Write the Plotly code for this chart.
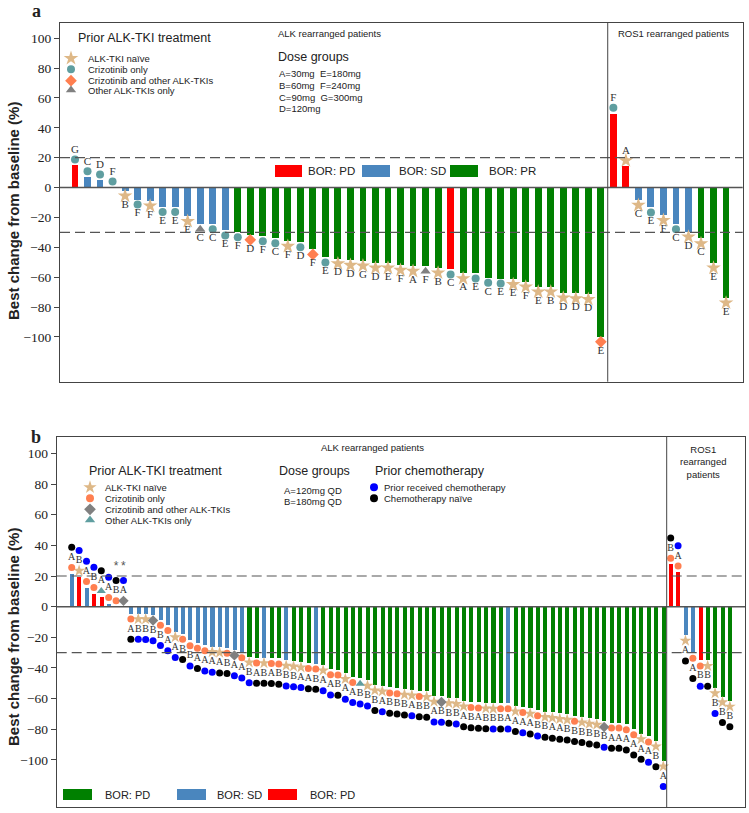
import plotly.graph_objects as go

W, H = 749, 813

# ---------------- panel a ----------------
# ALK rearranged patients (best % change from baseline, BOR, prior ALK-TKI, dose group)
a_alk_change = [15.2, 7.4, 5.2, 0.4, -2.0, -7.8, -8.7, -12.7, -12.7, -19.0,
                -24.3, -24.3, -28.5, -29.6, -31.4, -32.3, -33.7, -35.7, -36.3, -41.2,
                -46.6, -47.3, -48.4, -48.8, -50.2, -50.2, -51.7, -52.4, -52.4, -53.5,
                -54.6, -57.3, -57.3, -60.2, -60.7, -61.3, -62.9, -66.2, -66.2, -70.3,
                -70.7, -71.2, -99.7]
a_alk_bor = ("PD SD SD SD SD SD SD SD SD SD SD SD SD PR PR PR PR PR PR PR "
             "PR PR PR PR PR PR PR PR PR PR PD PR PR PR PR PR PR PR PR PR "
             "PR PR PR").split()
a_alk_prior = ("C C C C N C N C C N O C C C CO C C N C CO "
               "C N N N N N N N O N C N C C C N N N N N "
               "N N CO").split()
a_alk_dose = ("G C D F B F F E E E C C E F D F C F D F "
              "E D D G D E F A F B C A E C E E F E B D "
              "D D E").split()

# ROS1 rearranged patients
a_ros_change = [49.8, 14.5, -8.2, -13.1, -18.3, -24.3, -29.4, -33.9, -50.2, -73.6]
a_ros_bor = "PD PD SD SD SD SD SD PR PR PR".split()
a_ros_prior = "C N N C N C N N N N".split()
a_ros_dose = "F A C E F C D C E E".split()

# ---------------- panel b ----------------
b_alk_change = [21.7, 19.6, 12.6, 8.7, 6.5, 2.2, 0.0, 0.0, -4.3, -4.3,
                -4.4, -5.2, -8.3, -11.8, -16.1, -17.5, -21.7, -23.4, -25.0, -25.8,
                -26.2, -26.6, -28.0, -29.5, -32.6, -33.0, -33.0, -33.2, -33.6, -34.7,
                -35.2, -35.8, -36.5, -36.9, -37.8, -40.6, -40.8, -43.4, -45.6, -46.5,
                -47.8, -50.8, -51.5, -52.5, -53.0, -53.6, -54.1, -54.8, -55.1, -58.2,
                -58.4, -59.1, -59.6, -61.3, -62.0, -62.3, -62.6, -62.8, -62.8, -62.8,
                -64.5, -65.2, -66.0, -67.3, -68.2, -68.8, -69.5, -70.0, -71.0, -71.7,
                -72.6, -73.2, -74.7, -75.4, -75.4, -76.5, -79.8, -82.6, -84.5, -87.4,
                -100.4]
b_alk_bor = ("SD PD SD PD PD SD SD SD SD SD SD SD SD SD SD SD SD SD SD SD "
             "SD SD SD SD PR PR SD PR PR SD PR PR PR SD PR PR PR PR PR PR "
             "PR PR PR PR PR PR PR PR PR PR PR PR PR PR PR PR PR PR PR SD "
             "PR PR PR PR PR PR PR PR PR PR PR PR PR PR PR PR PR PR PR PR "
             "PR").split()
b_alk_prior = ("C N C C O C C CO C N N CO C C N C C C C N "
               "N C CO C N C N C C N N N C C N C C N C O "
               "N N N C C N N C N N CO N N N C C N N C C "
               "N C N C N N N N C N N N CO C C C C N C N "
               "N").split()
b_alk_dose = ("A B A B A A B A A B B B B A A B B A A A "
              "A B A A B A B A B B B A A B A A B A A B "
              "B B A B B B A B B A B B B A B A B B B A "
              "A A A B B A A B B B B B B A A A A A A B "
              "A").split()
b_alk_chemo = ("K U U U K U K U K U U U U U U K U K U U "
               "K K U U U K K K K U U U K K U U K U U U "
               "U K U K K K U K K U U K U K K K K U K U "
               "K U K U K K K K K K K K U K K K K K U K "
               "U").split()
b_alk_star = [6, 7]   # patients flagged with * in the original

b_ros_change = [27.8, 22.7, -18.4, -29.9, -34.9, -34.9, -52.7, -58.6, -61.4]
b_ros_bor = "PD PD SD SD PD PR PR PR PR".split()
b_ros_prior = "C C N C C N N N N".split()
b_ros_dose = "B A A A B B B B B".split()
b_ros_chemo = "K U K K U K U K K".split()

BOR_COLORS = {'PD': '#FF0000', 'SD': '#4A86BE', 'PR': '#008000'}
CHEMO_COLORS = {'U': '#0000FF', 'K': '#000000'}
PRIOR_A = {'N': ('star', '#DEB887', 11), 'C': ('circle', '#5F9EA0', 8),
           'CO': ('diamond', '#FF7F50', 9), 'O': ('triangle-up', '#808080', 9)}
PRIOR_B = {'N': ('star', '#DEB887', 9), 'C': ('circle', '#FF7F50', 7),
           'CO': ('diamond', '#808080', 8), 'O': ('triangle-up', '#5F9EA0', 8)}

SANS = 'Liberation Sans, Arial, sans-serif'
SERIF = 'Liberation Serif, Times New Roman, serif'


def shift(vals, off):
    return [v + off if v >= 0 else v - off for v in vals]


def add_panel(fig, change, bor, prior, dose, xa, ya, styles, mk_off, lab_off,
              lab_size, bar_w, chemo=None, chemo_off=0):
    xs = list(range(len(change)))
    fig.add_trace(go.Bar(x=xs, y=change, width=bar_w,
                         marker=dict(color=[BOR_COLORS[b] for b in bor], line_width=0),
                         xaxis=xa, yaxis=ya, showlegend=False))
    mk_y = shift(change, mk_off)
    for key, (sym, col, size) in styles.items():
        idx = [i for i, p in enumerate(prior) if p == key]
        fig.add_trace(go.Scatter(x=idx, y=[mk_y[i] for i in idx], mode='markers',
                                 marker=dict(symbol=sym, color=col, size=size, line_width=0),
                                 xaxis=xa, yaxis=ya, showlegend=False))
    fig.add_trace(go.Scatter(x=xs, y=shift(change, lab_off), mode='text', text=dose,
                             textfont=dict(family=SERIF, size=lab_size, color='#333333'),
                             xaxis=xa, yaxis=ya, showlegend=False))
    if chemo:
        fig.add_trace(go.Scatter(x=xs, y=shift(change, chemo_off), mode='markers',
                                 marker=dict(color=[CHEMO_COLORS[c] for c in chemo],
                                             size=7, line_width=0),
                                 xaxis=xa, yaxis=ya, showlegend=False))


fig = go.Figure()

add_panel(fig, a_alk_change + a_ros_change, a_alk_bor + a_ros_bor,
          a_alk_prior + a_ros_prior, a_alk_dose + a_ros_dose,
          'x', 'y', PRIOR_A, 3.6, 9.7, 11, 0.55)
add_panel(fig, b_alk_change + b_ros_change, b_alk_bor + b_ros_bor,
          b_alk_prior + b_ros_prior, b_alk_dose + b_ros_dose,
          'x2', 'y2', PRIOR_B, 3.8, 10.3, 10, 0.55,
          chemo=b_alk_chemo + b_ros_chemo, chemo_off=17)
fig.add_trace(go.Scatter(x=b_alk_star, y=[b_alk_change[i] + 26 for i in b_alk_star],
                         mode='text', text=['*'] * len(b_alk_star),
                         textfont=dict(family=SANS, size=12, color='#555555'),
                         xaxis='x2', yaxis='y2', showlegend=False))

# canvas axis in pixel units for legend glyphs
legend_syms = [('star', '#DEB887', 11), ('circle', '#5F9EA0', 8),
               ('diamond', '#FF7F50', 9), ('triangle-up', '#808080', 9)]
for (sym, col, size), yy in zip(legend_syms, [58.3, 69.3, 80.7, 90]):
    fig.add_trace(go.Scatter(x=[71], y=[yy], mode='markers',
                             marker=dict(symbol=sym, color=col, size=size),
                             xaxis='x3', yaxis='y3', showlegend=False))
for (sym, col, size), yy in zip(PRIOR_B.values(), [487.3, 498.3, 509.3, 520]):
    fig.add_trace(go.Scatter(x=[90], y=[yy], mode='markers',
                             marker=dict(symbol=sym, color=col, size=size + 1),
                             xaxis='x3', yaxis='y3', showlegend=False))
fig.add_trace(go.Scatter(x=[374, 374], y=[487.3, 498.3], mode='markers',
                         marker=dict(color=['#0000FF', '#000000'], size=8),
                         xaxis='x3', yaxis='y3', showlegend=False))

ann = []


def txt(x, y, s, size, family=SANS, anchor='left', bold=False, **kw):
    ann.append(dict(x=x, y=y, xref='x3', yref='y3', text=f'<b>{s}</b>' if bold else s,
                    showarrow=False, xanchor=anchor, yanchor='middle',
                    font=dict(family=family, size=size, color='#222222'), **kw))


shapes = []


def box(x0, y0, x1, y1, color):
    shapes.append(dict(type='rect', xref='x3', yref='y3', x0=x0, y0=y0, x1=x1, y1=y1,
                       fillcolor=color, line_width=0))


# panel a texts
txt(36, 11, 'a', 18, SERIF, 'center', bold=True)
txt(76, 38, 'Prior ALK-TKI treatment', 12.5)
for s, yy in zip(['ALK-TKI naïve', 'Crizotinib only', 'Crizotinib and other ALK-TKIs',
                  'Other ALK-TKIs only'], [58.3, 69.3, 80.7, 90]):
    txt(86, yy, s, 9.5)
txt(276, 33, 'ALK rearranged patients', 9.5)
txt(276, 57, 'Dose groups', 12.5)
for s, yy in zip(['A=30mg\u00a0 E=180mg', 'B=60mg\u00a0 F=240mg', 'C=90mg\u00a0 G=300mg',
                  'D=120mg'], [73, 85, 97, 108]):
    txt(277, yy, s, 9.5)
txt(616, 33, 'ROS1 rearranged patients', 9.5)
for (x0, x1, tx, col, lab) in [(275, 302, 306, '#FF0000', 'BOR: PD'),
                               (362, 390, 397, '#4A86BE', 'BOR: SD'),
                               (450, 478, 487, '#008000', 'BOR: PR')]:
    box(x0, 165, x1, 177, col)
    txt(tx, 171, lab, 11.5)
txt(13, 211, 'Best change from baseline (%)', 15, textangle=-90, anchor='center', bold=True)

# panel b texts
txt(36, 437, 'b', 18, SERIF, 'center', bold=True)
txt(319, 447, 'ALK rearranged patients', 9.5)
txt(87, 471, 'Prior ALK-TKI treatment', 12.5)
for s, yy in zip(['ALK-TKI naïve', 'Crizotinib only', 'Crizotinib and other ALK-TKIs',
                  'Other ALK-TKIs only'], [487.3, 498.3, 509.3, 520]):
    txt(103, yy, s, 9.5)
txt(277, 471, 'Dose groups', 12.5)
txt(282, 490, 'A=120mg QD', 9.5)
txt(282, 501, 'B=180mg QD', 9.5)
txt(373, 471, 'Prior chemotherapy', 12.5)
txt(382, 487.3, 'Prior received chemotherapy', 9.5)
txt(382, 498.3, 'Chemotherapy naïve', 9.5)
txt(678, 462, 'ROS1<br>rearranged<br>patients', 9.5)
for (x0, x1, tx, col, lab) in [(63, 92, 103, '#008000', 'BOR: PD'),
                               (177, 206, 215, '#4A86BE', 'BOR: SD'),
                               (268, 297, 308, '#FF0000', 'BOR: PD')]:
    box(x0, 789, x1, 800, col)
    txt(tx, 794.5, lab, 11)
txt(13, 637, 'Best change from baseline (%)', 15, textangle=-90, anchor='center', bold=True)

# reference lines inside the panels
for xa, ya, sep in [('x', 'y', 42.55), ('x2', 'y2', 80.46)]:
    shapes.append(dict(type='line', xref=f'{xa} domain', yref=ya, x0=0, x1=1, y0=0, y1=0,
                       line=dict(color='#555555', width=1.5)))
    for yv in (20, -30):
        shapes.append(dict(type='line', xref=f'{xa} domain', yref=ya, x0=0, x1=1,
                           y0=yv, y1=yv,
                           line=dict(color='#555555', width=1.2, dash='10px,5px')))
    shapes.append(dict(type='line', xref=xa, yref=f'{ya} domain', x0=sep, x1=sep, y0=0, y1=1,
                       line=dict(color='#444444', width=1)))

frame = dict(showline=True, mirror=True, linecolor='#444444', linewidth=1,
             showgrid=False, zeroline=False)
xframe = dict(frame, showticklabels=False, ticks='')
yframe = dict(frame, tickvals=list(range(-100, 101, 20)), ticks='outside', ticklen=5,
              tickcolor='#444444', tickfont=dict(family=SERIF, size=13.5, color='#222222'))

fig.update_layout(
    width=W, height=H,
    margin=dict(l=0, r=0, t=0, b=0),
    paper_bgcolor='white', plot_bgcolor='rgba(0,0,0,0)',
    showlegend=False, bargap=0,
    xaxis=dict(xframe, domain=[60 / W, 742.7 / W], range=[-1.198, 53.33], anchor='y'),
    yaxis=dict(yframe, domain=[1 - 381.7 / H, 1 - 22.7 / H], range=[-130, 110.4], anchor='x'),
    xaxis2=dict(xframe, domain=[56.7 / W, 745 / W], range=[-2.03, 91.05], anchor='y2'),
    yaxis2=dict(yframe, domain=[1 - 807.3 / H, 1 - 436.7 / H], range=[-130.9, 110.9],
                anchor='x2'),
    xaxis3=dict(domain=[0, 1], range=[0, W], visible=False, anchor='y3'),
    yaxis3=dict(domain=[0, 1], range=[H, 0], visible=False, anchor='x3'),
    annotations=ann,
    shapes=shapes,
)

# the page's default body margin would shift the figure; drop it
fig.write_html("out.html", config={'displayModeBar': False},
               post_script="document.body.style.margin='0';")
